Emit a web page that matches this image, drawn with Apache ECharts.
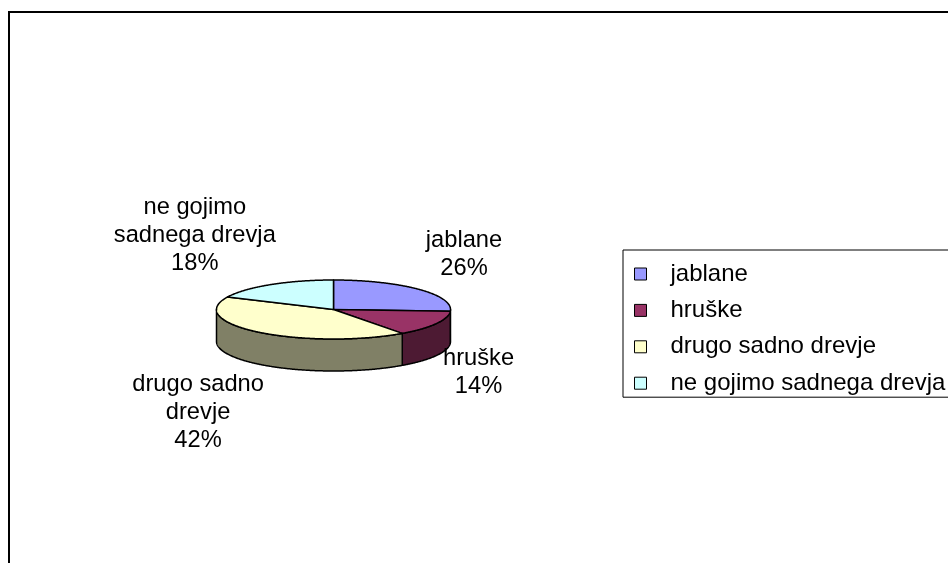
<!DOCTYPE html>
<html>
<head>
<meta charset="utf-8">
<script src="https://cdn.jsdelivr.net/npm/echarts@6/dist/echarts.min.js"></script>
<style>
  html, body { margin: 0; padding: 0; background: #fff; }
  #chart { width: 948px; height: 563px; }
</style>
</head>
<body>
<div id="chart"></div>
<script>
// Categories and their shares (percent)
const categories = ['jablane', 'hruške', 'drugo sadno drevje', 'ne gojimo sadnega drevja'];
const shares = [26, 14, 42, 18];
// Data label text, split into lines as printed beside each slice
const labelLines = [['jablane'], ['hruške'], ['drugo sadno', 'drevje'], ['ne gojimo', 'sadnega drevja']];

// Styling
const topColors = ['#9999FF', '#993366', '#FFFFCC', '#CCFFFF'];
const sideColors = ['#4C4C80', '#4D1A33', '#808066', '#668080'];
const FONT_FAMILY = '"Liberation Sans", Arial, sans-serif';
const FONT_SIZE = 23.7;
const LINE_H = 28;

// Tilted pie geometry (ellipse centre, radii, wall depth)
const PIE = { cx: 333.5, cy: 309.5, rx: 117, ry: 29.5, depth: 32 };

const total = shares.reduce((a, b) => a + b, 0);
const starts = [];
shares.reduce((acc, v, i) => { starts[i] = acc; return acc + v; }, 0);

const measureCtx = document.createElement('canvas').getContext('2d');
measureCtx.font = FONT_SIZE + 'px ' + FONT_FAMILY;

function edgePoint(theta, dy) {
  return [PIE.cx + PIE.rx * Math.sin(theta), PIE.cy - PIE.ry * Math.cos(theta) + (dy || 0)];
}

function arcPoints(a, b, dy) {
  const pts = [];
  const n = Math.max(2, Math.ceil((b - a) / (Math.PI / 360)));
  for (let k = 0; k <= n; k++) pts.push(edgePoint(a + (b - a) * k / n, dy));
  return pts;
}

function makeRenderItem(i) {
  return function (params, api) {
    const value = api.value(0);
    const a = starts[i] / total * Math.PI * 2;
    const b = a + value / total * Math.PI * 2;
    const children = [];

    // outer wall: only the part facing the viewer (between 90° and 270° clockwise from top)
    const wa = Math.max(a, Math.PI / 2);
    const wb = Math.min(b, Math.PI * 3 / 2);
    if (wb > wa) {
      const topArc = arcPoints(wa, wb, 0);
      const botArc = arcPoints(wa, wb, PIE.depth).reverse();
      children.push({
        type: 'polygon',
        shape: { points: topArc.concat(botArc) },
        style: { fill: sideColors[i], stroke: '#000', lineWidth: 1.5, lineJoin: 'round' }
      });
    }

    // top face
    children.push({
      type: 'polygon',
      shape: { points: [[PIE.cx, PIE.cy]].concat(arcPoints(a, b, 0)) },
      style: { fill: topColors[i], stroke: '#000', lineWidth: 1.5, lineJoin: 'round' }
    });

    // data label: category name and share, placed just outside the slice's mid-angle
    const lines = labelLines[i].concat([Math.round(value) + '%']);
    const w = Math.max.apply(null, lines.map(s => measureCtx.measureText(s).width));
    const blockH = lines.length * LINE_H;
    const mid = (a + b) / 2;
    const e = edgePoint(mid, 0);
    const dir = Math.sin(mid) >= 0 ? 1 : -1;
    const nearX = e[0] + (dir > 0 ? 7 : 5);
    const x = nearX + dir * w / 2;
    let y;
    if (Math.cos(mid) > 0) {
      y = e[1] - 7 - blockH / 2;
    } else {
      y = e[1] + 60.6 * (-Math.cos(mid)) - 8 + blockH / 2;
    }
    children.push({
      type: 'text',
      z2: 10,
      style: {
        text: lines.join('\n'),
        x: x, y: y,
        align: 'center', verticalAlign: 'middle',
        fontSize: FONT_SIZE, fontFamily: FONT_FAMILY,
        lineHeight: LINE_H, fill: '#000'
      }
    });

    return { type: 'group', children: children };
  };
}

const chart = echarts.init(document.getElementById('chart'), null, { renderer: 'canvas' });

const series = categories.map((name, i) => ({
  type: 'custom',
  name: name,
  coordinateSystem: 'none',
  silent: true,
  animation: false,
  itemStyle: { color: topColors[i] },
  renderItem: makeRenderItem(i),
  data: [[shares[i]]]
}));

chart.setOption({
  backgroundColor: '#fff',
  animation: false,
  graphic: [{
    type: 'rect',
    shape: { x: 9, y: 12, width: 1000, height: 620 },
    style: { fill: 'none', stroke: '#000', lineWidth: 2 },
    silent: true,
    z: 0
  }],
  legend: {
    data: categories,
    orient: 'vertical',
    left: 623,
    top: 250,
    padding: [12, 20, 2, 11],
    itemGap: 12.4,
    itemWidth: 12,
    itemHeight: 12,
    icon: 'rect',
    selectedMode: false,
    borderColor: '#000',
    borderWidth: 1,
    itemStyle: { borderColor: '#000', borderWidth: 1 },
    textStyle: {
      fontSize: 24,
      fontFamily: FONT_FAMILY,
      color: '#000',
      padding: [0, 0, 0, 19]
    }
  },
  series: series
});
</script>
</body>
</html>
